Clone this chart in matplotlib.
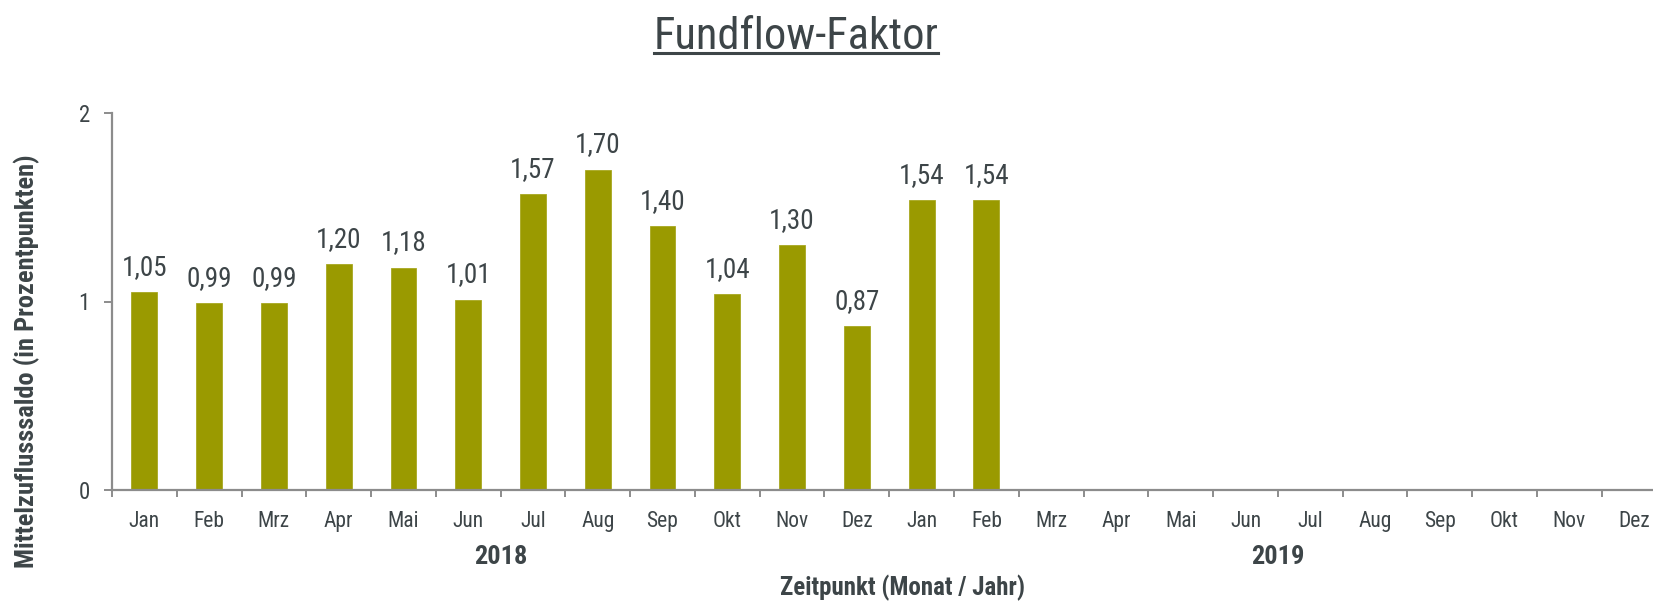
import matplotlib
matplotlib.use("Agg")
import matplotlib.pyplot as plt
import matplotlib.transforms as mtransforms
from matplotlib.lines import Line2D
from matplotlib.ticker import FixedLocator, NullFormatter, FixedFormatter
from matplotlib import font_manager as fm

months = ["Jan", "Feb", "Mrz", "Apr", "Mai", "Jun", "Jul", "Aug", "Sep", "Okt", "Nov", "Dez",
          "Jan", "Feb", "Mrz", "Apr", "Mai", "Jun", "Jul", "Aug", "Sep", "Okt", "Nov", "Dez"]
years = ["2018", "2019"]
values = [1.05, 0.99, 0.99, 1.20, 1.18, 1.01, 1.57, 1.70, 1.40, 1.04, 1.30, 0.87, 1.54, 1.54]
y_ticks = [0, 1, 2]

# find a condensed font if available
cands = []
for f in fm.fontManager.ttflist:
    nm = (f.name + " " + f.fname).lower()
    if ("condensed" in str(f.stretch).lower() or "condensed" in nm or "narrow" in nm) \
            and "semi" not in nm and "extra" not in nm and "ultra" not in nm and f.style == "normal":
        cands.append(f)

def wnum(w):
    if isinstance(w, int):
        return w
    return {"normal": 400, "regular": 400, "book": 400, "bold": 700}.get(str(w).lower(), 400)

def pick(weight_ok):
    order = ["roboto", "open sans", "noto sans", "dejavu", "liberation", "lato", "inter"]
    for key in order:
        for f in cands:
            if key in f.name.lower() and weight_ok(f.weight):
                return fm.FontProperties(fname=f.fname)
    return None

reg = pick(lambda w: 380 <= wnum(w) <= 420)
bold = pick(lambda w: 650 <= wnum(w) <= 720)
if reg is None:
    reg = fm.FontProperties(family="Roboto")
if bold is None:
    bold = fm.FontProperties(family="Roboto", weight="bold")

def fp(base, size):
    p = base.copy()
    p.set_size(size)
    return p

TEXT = "#3d4548"
AXC = "#8c8c8c"
BAR = "#9a9a00"

W, H = 1653, 603
fig = plt.figure(figsize=(W / 100, H / 100), dpi=100)
left = 112 / W
bottom = (H - 490) / H
width = (24 * 64.77) / W
height = 377 / H
ax = fig.add_axes([left, bottom, width, height])

xs = list(range(len(values)))
ax.bar(xs, values, width=0.4, color=BAR, edgecolor="#a8a820", linewidth=0.6, zorder=2)
for x, v in zip(xs, values):
    ax.annotate(f"{v:.2f}".replace(".", ","), (x, v), xytext=(0, 8), textcoords="offset points",
                ha="center", va="bottom", fontproperties=fp(reg, 19.5), color=TEXT)

ax.set_xlim(-0.5, 23.5)
ax.set_ylim(0, 2)
for s in ["top", "right"]:
    ax.spines[s].set_visible(False)
for s in ["left", "bottom"]:
    ax.spines[s].set_color(AXC)
    ax.spines[s].set_linewidth(1.6)

ax.xaxis.set_major_locator(FixedLocator([i - 0.5 for i in range(25)]))
ax.xaxis.set_major_formatter(NullFormatter())
ax.xaxis.set_minor_locator(FixedLocator(list(range(24))))
ax.xaxis.set_minor_formatter(FixedFormatter(months))
ax.tick_params(axis="x", which="major", length=5, width=1.4, color=AXC, direction="out")
ax.tick_params(axis="x", which="minor", length=0, pad=15, labelcolor=TEXT)
ax.set_yticks(y_ticks)
ax.set_yticklabels([str(t) for t in y_ticks])
ax.tick_params(axis="y", length=6, width=1.4, color=AXC, pad=10, labelcolor=TEXT)
for lab in ax.get_xticklabels(minor=True):
    lab.set_fontproperties(fp(reg, 15.5))
for lab in ax.get_yticklabels():
    lab.set_fontproperties(fp(reg, 16.5))

trans = mtransforms.blended_transform_factory(ax.transData, fig.transFigure)
for i, yr in enumerate(years):
    ax.text(5.5 + 12 * i, 1 - 557 / H, yr, transform=trans, ha="center", va="center",
            fontproperties=fp(bold, 19), color=TEXT, clip_on=False)

fig.text(902 / W, 1 - 588 / H, "Zeitpunkt (Monat / Jahr)", ha="center", va="center",
         fontproperties=fp(bold, 18), color=TEXT)
fig.text(27 / W, 1 - 361 / H, "Mittelzuflusssaldo (in Prozentpunkten)", ha="center", va="center",
         rotation=90, fontproperties=fp(bold, 19), color=TEXT)

t = fig.text(796 / W, 1 - 49 / H, "Fundflow-Faktor", ha="center", va="baseline",
             fontproperties=fp(reg, 32), color=TEXT)
fig.canvas.draw()
bb = t.get_window_extent(renderer=fig.canvas.get_renderer())
uy = 1 - 53 / H
fig.add_artist(Line2D([bb.x0 / W, bb.x1 / W], [uy, uy], transform=fig.transFigure,
                      color=TEXT, linewidth=2.2))

fig.savefig("out.png", dpi=100)
